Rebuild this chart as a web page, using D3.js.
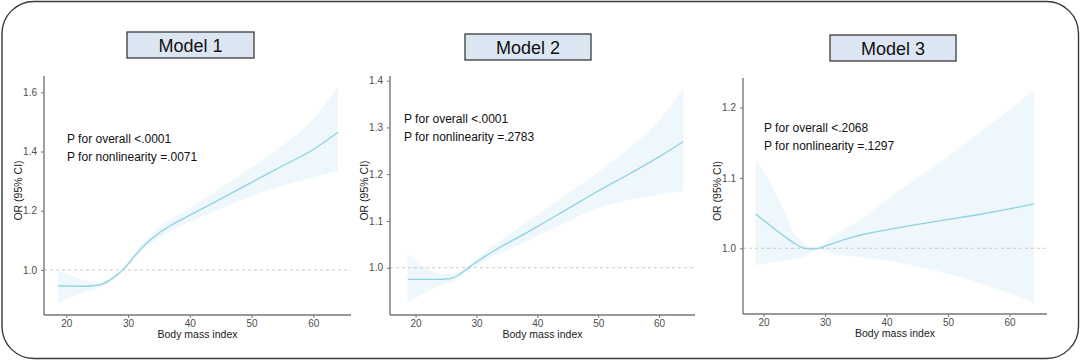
<!DOCTYPE html>
<html>
<head>
<meta charset="utf-8">
<script src="https://cdn.jsdelivr.net/npm/d3@7"></script>
<style>
html,body{margin:0;padding:0;background:#fff;}
svg{display:block;font-family:"Liberation Sans",Arial,sans-serif;}
</style>
</head>
<body>
<svg id="chart" width="1080" height="360"></svg>
<script>
// ---- data ----
const titles = ["Model 1", "Model 2", "Model 3"];
const bmi = [18.7,20,22,24,25,26,27,28,29,30,31,32,33,35,37,40,45,50,55,60,64];

const or1 = [0.946,0.946,0.945,0.946,0.948,0.954,0.965,0.980,0.997,1.020,1.045,1.069,1.090,1.124,1.151,1.185,1.240,1.296,1.351,1.407,1.465];
const lo1 = [0.888,0.900,0.918,0.932,0.938,0.946,0.958,0.974,0.992,1.013,1.036,1.058,1.078,1.108,1.133,1.162,1.207,1.250,1.285,1.313,1.334];
const hi1 = [1.000,0.990,0.972,0.960,0.958,0.962,0.972,0.987,1.003,1.028,1.055,1.081,1.104,1.142,1.172,1.210,1.277,1.345,1.420,1.510,1.617];

const or2 = [0.975,0.975,0.975,0.975,0.976,0.978,0.984,0.993,1.003,1.012,1.021,1.029,1.037,1.052,1.066,1.088,1.126,1.164,1.200,1.237,1.270];
const lo2 = [0.924,0.935,0.950,0.962,0.966,0.970,0.977,0.987,0.997,1.004,1.012,1.019,1.026,1.037,1.049,1.068,1.099,1.128,1.145,1.156,1.164];
const hi2 = [1.031,1.015,0.997,0.988,0.986,0.987,0.991,0.999,1.008,1.019,1.030,1.040,1.050,1.068,1.086,1.113,1.158,1.205,1.255,1.315,1.384];

const or3 = [1.049,1.040,1.026,1.013,1.007,1.002,0.9995,0.999,1.000,1.003,1.006,1.009,1.012,1.017,1.021,1.026,1.034,1.041,1.048,1.056,1.063];
const lo3 = [0.976,0.978,0.981,0.984,0.986,0.987,0.989,0.995,0.999,0.996,0.993,0.991,0.990,0.988,0.986,0.983,0.974,0.964,0.951,0.936,0.922];
const hi3 = [1.126,1.110,1.078,1.040,1.021,1.012,1.004,1.002,1.002,1.008,1.015,1.021,1.027,1.036,1.048,1.069,1.100,1.130,1.163,1.197,1.225];

const pOverall = ["P for overall <.0001", "P for overall <.0001", "P for overall <.2068"];
const pNonlin  = ["P for nonlinearity =.0071", "P for nonlinearity =.2783", "P for nonlinearity =.1297"];

const xTicks = [20,30,40,50,60];
const yTicks1 = [1.0,1.2,1.4,1.6];
const yTicks2 = [1.0,1.1,1.2,1.3,1.4];
const yTicks3 = [1.0,1.1,1.2];

const xDomains = [[16.4,66.1],[15.8,65.9],[16.65,66.1]];
const yDomains = [[0.848,1.655],[0.899,1.41],[0.9066,1.242]];

// ---- layout ----
const panels = [
  {L:44, R:351, T:76, B:315, title:[127,32,127,26], txt:[67,143], or:or1, lo:lo1, hi:hi1, yt:yTicks1},
  {L:390,R:695, T:76, B:315, title:[465,34,126,26], txt:[404,123], or:or2, lo:lo2, hi:hi2, yt:yTicks2},
  {L:743,R:1047,T:78, B:314, title:[830,35,126,26], txt:[764,132], or:or3, lo:lo3, hi:hi3, yt:yTicks3}
];

const svg = d3.select("#chart");

// outer rounded frame
svg.append("rect").attr("x",2).attr("y",1.5).attr("width",1076.5).attr("height",357)
  .attr("rx",32).attr("ry",32).attr("fill","none").attr("stroke","#3a3a3a").attr("stroke-width",1.4);

const axisColor = "#777";
const lineColor = "#93d0e0";
const bandColor = "#eef7fc";

panels.forEach((p,i)=>{
  const x = d3.scaleLinear().domain(xDomains[i]).range([p.L,p.R]);
  const y = d3.scaleLinear().domain(yDomains[i]).range([p.B,p.T]);
  const g = svg.append("g");
  const rows = bmi.map((b,k)=>({b, or:p.or[k], lo:p.lo[k], hi:p.hi[k]}));

  // band
  g.append("path").datum(rows)
    .attr("d", d3.area().x(d=>x(d.b)).y0(d=>y(d.lo)).y1(d=>y(d.hi)).curve(d3.curveMonotoneX))
    .attr("fill", bandColor);

  // reference line
  g.append("line").attr("x1",p.L).attr("x2",p.R).attr("y1",y(1)).attr("y2",y(1))
    .attr("stroke","#c4c4c4").attr("stroke-width",0.9).attr("stroke-dasharray","3,3");

  // curve
  g.append("path").datum(rows)
    .attr("d", d3.line().x(d=>x(d.b)).y(d=>y(d.or)).curve(d3.curveMonotoneX))
    .attr("fill","none").attr("stroke",lineColor).attr("stroke-width",1.3);

  // axes
  const ax = g.append("g").attr("transform",`translate(0,${p.B})`)
    .call(d3.axisBottom(x).tickValues(xTicks).tickSize(3).tickPadding(1.5).tickSizeOuter(0));
  const ay = g.append("g").attr("transform",`translate(${p.L},0)`)
    .call(d3.axisLeft(y).tickValues(p.yt).tickFormat(d3.format(".1f")).tickSize(3).tickPadding(4).tickSizeOuter(0));
  [ax,ay].forEach(a=>{
    a.select(".domain").attr("stroke",axisColor).attr("stroke-width",1.4);
    a.selectAll(".tick line").attr("stroke",axisColor).attr("stroke-width",1);
    a.selectAll(".tick text").attr("fill","#4d4d4d").style("font-size","10px")
      .style("font-family","'Liberation Sans',Arial,sans-serif");
  });
  ax.select(".domain").attr("d",`M${p.L},0H${p.R}`);
  ay.select(".domain").attr("d",`M0,${p.B}V${p.T}`);

  // axis titles
  g.append("text").attr("x",(p.L+p.R)/2).attr("y",p.B+23)
    .attr("text-anchor","middle").attr("fill","#1a1a1a").style("font-size","10.5px").text("Body mass index");
  g.append("text").attr("transform",`translate(${p.L-22},${(p.T+p.B)/2-5}) rotate(-90)`)
    .attr("text-anchor","middle").attr("fill","#1a1a1a").style("font-size","10.5px").text("OR (95% CI)");

  // annotations
  g.append("text").attr("x",p.txt[0]).attr("y",p.txt[1]).attr("fill","#111").style("font-size","12px").text(pOverall[i]);
  g.append("text").attr("x",p.txt[0]).attr("y",p.txt[1]+18).attr("fill","#111").style("font-size","12px").text(pNonlin[i]);

  // title box
  const [bx,by,bw,bh] = p.title;
  svg.append("rect").attr("x",bx).attr("y",by).attr("width",bw).attr("height",bh)
    .attr("fill","#dce6f2").attr("stroke","#3a3a3a").attr("stroke-width",1.3);
  svg.append("text").attr("x",bx+bw/2).attr("y",by+bh/2+6.5).attr("text-anchor","middle")
    .attr("fill","#111").style("font-size","18px").text(titles[i]);
});
</script>
</body>
</html>
